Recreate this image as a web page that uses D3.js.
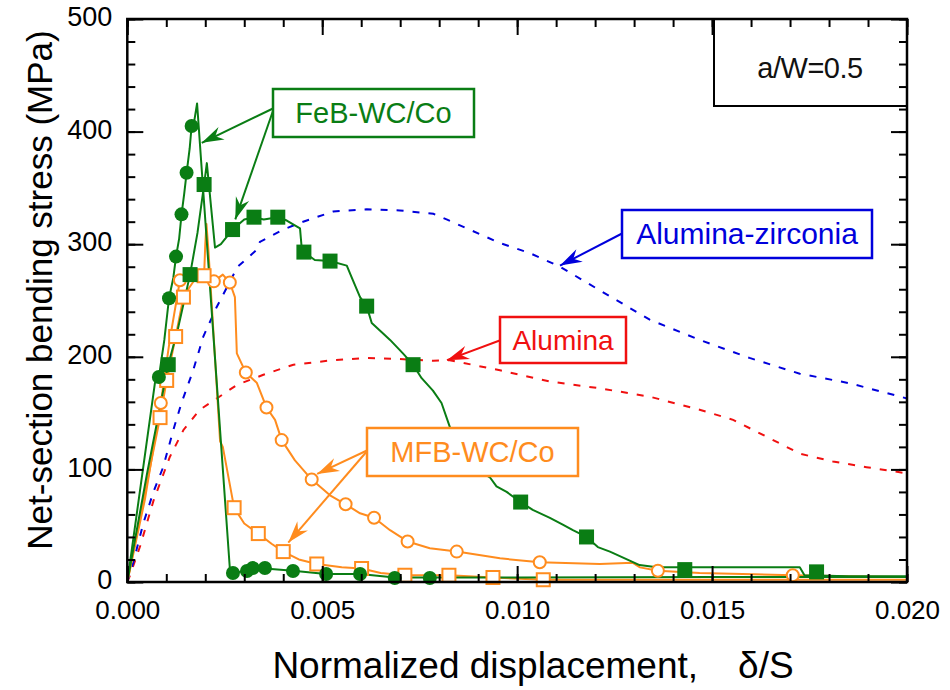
<!DOCTYPE html>
<html>
<head>
<meta charset="utf-8">
<script src="https://cdn.jsdelivr.net/npm/d3@7"></script>
<style>
  html, body { margin: 0; padding: 0; background: #fff; }
  svg { display: block; font-family: "Liberation Sans", Arial, Helvetica, sans-serif; }
</style>
</head>
<body>
<svg id="chart" width="950" height="690"></svg>
<script>
// ---------------- DATA ----------------
// FeB-WC/Co specimen 1 (filled circles)
const feb1X = [0, 0.00071, 0.00081, 0.00095, 0.00107, 0.00118, 0.00125, 0.00133, 0.00139, 0.00146, 0.00152, 0.0016, 0.00165, 0.00172, 0.00179, 0.00263, 0.00271, 0.00307, 0.00322, 0.00353, 0.00425, 0.0051, 0.00597, 0.00686, 0.00776, 0.010, 0.015, 0.020];
const feb1Y = [0, 177, 182, 215, 252, 270, 289, 305, 326, 345, 363, 385, 405, 410, 425, 12, 8, 10, 12, 12, 10, 7, 7, 4, 4, 4, 4.5, 4.5];
const feb1MarkX = [0.00081, 0.00107, 0.00125, 0.00139, 0.00152, 0.00165, 0.00271, 0.00307, 0.00322, 0.00353, 0.00425, 0.0051, 0.00597, 0.00686, 0.00776];
const feb1MarkY = [182, 252, 289, 326.5, 363.5, 405, 8, 9.8, 12.4, 12.4, 9.8, 7.1, 7.1, 3.6, 3.6];

// FeB-WC/Co specimen 2 (filled squares)
const feb2X = [0, 0.0005, 0.00105, 0.0013, 0.00161, 0.0018, 0.00197, 0.00204, 0.00225, 0.0024, 0.0027, 0.003, 0.00325, 0.0035, 0.00386, 0.00409, 0.00443, 0.00447, 0.00453, 0.00481, 0.0052, 0.00563, 0.00575, 0.00597, 0.00614, 0.00627, 0.00652, 0.00674, 0.00707, 0.00733, 0.00755, 0.00784, 0.00806, 0.00827, 0.0085, 0.0093, 0.00947, 0.00973, 0.01009, 0.0104, 0.01084, 0.01117, 0.01143, 0.01178, 0.01207, 0.01238, 0.01314, 0.01358, 0.01725, 0.01737, 0.0185, 0.020];
const feb2Y = [0, 95, 193, 225, 273, 310, 353, 372, 297, 300, 313, 322, 324, 322, 324, 321, 314, 298, 293, 286, 285, 281, 271, 253, 245, 230, 222, 215, 203, 193, 181, 170, 159, 138, 110, 93, 85, 80, 71, 64, 57, 51, 46, 40, 31, 27, 15, 13, 13, 6, 5, 5];
const feb2MarkX = [0.00105, 0.00161, 0.00197, 0.0027, 0.00325, 0.00386, 0.00453, 0.0052, 0.00614, 0.00733, 0.01009, 0.01178, 0.0143, 0.01768];
const feb2MarkY = [193, 273, 353, 313, 324, 324, 293, 285, 245, 193, 71, 40, 11, 9];

// MFB-WC/Co specimen 1 (open circles)
const mfb1X = [0, 0.00045, 0.00086, 0.00109, 0.00135, 0.00161, 0.00186, 0.00222, 0.00245, 0.00263, 0.00276, 0.00281, 0.00289, 0.00304, 0.00332, 0.00357, 0.00379, 0.00396, 0.0043, 0.00473, 0.0052, 0.0056, 0.00597, 0.00633, 0.00674, 0.00719, 0.00776, 0.00845, 0.00956, 0.01058, 0.01212, 0.01297, 0.01315, 0.01361, 0.01468, 0.01707, 0.01853, 0.020];
const mfb1Y = [0, 73, 159, 215, 268, 275, 273, 267, 273, 266, 253, 203, 197, 186, 177, 155, 144, 126, 108, 91, 77, 69, 61, 57, 46, 36, 30, 27, 21, 17.5, 16, 17, 13, 10, 8, 6, 5, 4.4];
const mfb1MarkX = [0.00086, 0.00135, 0.00222, 0.00263, 0.00304, 0.00357, 0.00396, 0.00473, 0.0056, 0.00633, 0.00719, 0.00845, 0.01058, 0.01361, 0.01707];
const mfb1MarkY = [159, 268, 267, 266, 186, 155, 126, 91, 69, 57, 36, 27, 17.5, 10, 6];

// MFB-WC/Co specimen 2 (open squares)
const mfb2X = [0, 0.0004, 0.00084, 0.00101, 0.00124, 0.00144, 0.0016, 0.0018, 0.00197, 0.002, 0.00203, 0.00208, 0.00238, 0.00245, 0.00274, 0.003, 0.00336, 0.0037, 0.004, 0.0044, 0.00486, 0.0055, 0.00601, 0.0065, 0.00712, 0.00825, 0.00938, 0.01067, 0.015, 0.020];
const mfb2Y = [0, 70, 146, 179, 218, 253, 262, 272, 272, 300, 318, 295, 125, 120, 66, 52, 43, 34, 27, 20, 16, 13, 12, 8, 6, 6, 4, 2, 2, 2];
const mfb2MarkX = [0.00084, 0.00101, 0.00124, 0.00144, 0.00197, 0.00274, 0.00336, 0.004, 0.00486, 0.00601, 0.00712, 0.00825, 0.00938, 0.01067];
const mfb2MarkY = [146, 179, 218, 253, 272, 66, 43, 27, 16, 12, 6, 6, 4, 2];

// Alumina (red dashed)
const aluX = [0, 0.00007, 0.00033, 0.00067, 0.00109, 0.00144, 0.00186, 0.00238, 0.00281, 0.00349, 0.00426, 0.00528, 0.00614, 0.00699, 0.00785, 0.00827, 0.00956, 0.01084, 0.01212, 0.0134, 0.01468, 0.01554, 0.0164, 0.01725, 0.0181, 0.01896, 0.020];
const aluY = [0, 6, 32, 72, 111, 135, 153, 165, 175, 184, 193, 197, 199, 198, 196.5, 197, 188, 178, 172, 164.6, 153, 144, 129, 114, 107, 102, 96.5];

// Alumina-zirconia (blue dashed)
const azX = [0, 0.00015, 0.00041, 0.00067, 0.00092, 0.00118, 0.00139, 0.00169, 0.00195, 0.00229, 0.00283, 0.00332, 0.0034, 0.004, 0.00451, 0.00528, 0.00614, 0.00699, 0.00785, 0.00819, 0.00956, 0.01033, 0.0111, 0.01212, 0.0134, 0.01468, 0.01596, 0.01725, 0.01853, 0.020];
const azY = [0, 17, 52, 80, 102, 135, 159, 188, 218, 244, 280, 295, 302, 313, 320, 329, 331, 330, 327, 322, 301, 292, 280, 259, 233, 215, 199, 185, 176.5, 163];

// Axis ticks
const xMajorTicks = [0, 0.005, 0.010, 0.015, 0.020];
const xMinorTicks = d3.range(0, 0.0201, 0.001);
const yMajorTicks = [0, 100, 200, 300, 400, 500];
const yMinorTicks = d3.range(0, 501, 20);

// Labels
const xTitleMain = "Normalized displacement,";
const xTitleSym = "\u03B4/S";
const yTitle = "Net-section bending stress (MPa)";
const noteText = "a/W=0.5";

// ---------------- CHART ----------------
const svg = d3.select("#chart");
const L = 127.3, R = 907, T = 19, B = 582;
const x = d3.scaleLinear().domain([0, 0.02]).range([L, R]);
const y = d3.scaleLinear().domain([0, 500]).range([B, T]);

const C = { green: "#0a7d14", orange: "#ff8c1e", blue: "#0000dc", red: "#f01010" };

const zip = (xs, ys) => xs.map((v, i) => [v, ys[i]]);
const line = d3.line().x(d => x(d[0])).y(d => y(d[1]));

const defs = svg.append("defs");
defs.append("clipPath").attr("id", "clip").append("rect")
  .attr("x", L).attr("y", T).attr("width", R - L).attr("height", B - T);
Object.entries(C).forEach(([k, c]) => {
  defs.append("marker").attr("id", "arr-" + k)
    .attr("viewBox", "-24 -8 26 16").attr("refX", 0).attr("refY", 0)
    .attr("markerWidth", 26).attr("markerHeight", 16).attr("markerUnits", "userSpaceOnUse")
    .attr("orient", "auto")
    .append("path").attr("d", "M0,0 L-22,-7 L-15,0 L-22,7 Z").attr("fill", c);
});

const plot = svg.append("g").attr("clip-path", "url(#clip)");

// dashed curves
plot.append("path").datum(zip(aluX, aluY)).attr("d", line)
  .attr("fill", "none").attr("stroke", C.red).attr("stroke-width", 2).attr("stroke-dasharray", "7,9");
plot.append("path").datum(zip(azX, azY)).attr("d", line)
  .attr("fill", "none").attr("stroke", C.blue).attr("stroke-width", 2).attr("stroke-dasharray", "7,9");

// solid curves
[[mfb2X, mfb2Y, C.orange], [mfb1X, mfb1Y, C.orange], [feb2X, feb2Y, C.green], [feb1X, feb1Y, C.green]].forEach(([xs, ys, c]) => {
  plot.append("path").datum(zip(xs, ys)).attr("d", line)
    .attr("fill", "none").attr("stroke", c).attr("stroke-width", 2).attr("stroke-linejoin", "round");
});

// markers
const mk = svg.append("g");
mk.selectAll(".m1").data(zip(mfb1MarkX, mfb1MarkY)).enter().append("circle")
  .attr("cx", d => x(d[0])).attr("cy", d => y(d[1])).attr("r", 6)
  .attr("fill", "#fff").attr("stroke", C.orange).attr("stroke-width", 2);
mk.selectAll(".m2").data(zip(mfb2MarkX, mfb2MarkY)).enter().append("rect")
  .attr("x", d => x(d[0]) - 6.5).attr("y", d => y(d[1]) - 6.5).attr("width", 13).attr("height", 13)
  .attr("fill", "#fff").attr("stroke", C.orange).attr("stroke-width", 2);
mk.selectAll(".f2").data(zip(feb2MarkX, feb2MarkY)).enter().append("rect")
  .attr("x", d => x(d[0]) - 7.5).attr("y", d => y(d[1]) - 7.5).attr("width", 15).attr("height", 15)
  .attr("fill", C.green);
mk.selectAll(".f1").data(zip(feb1MarkX, feb1MarkY)).enter().append("circle")
  .attr("cx", d => x(d[0])).attr("cy", d => y(d[1])).attr("r", 7)
  .attr("fill", C.green);

// axes
function noDomain(g) { g.select(".domain").remove(); }
const fs = 26;
svg.append("g").attr("transform", `translate(0,${B})`)
  .call(d3.axisBottom(x).tickValues(xMinorTicks).tickSize(-8).tickFormat(""))
  .call(noDomain).call(g => g.selectAll("line").attr("stroke-width", 2));
svg.append("g").attr("transform", `translate(0,${B})`)
  .call(d3.axisBottom(x).tickValues(xMajorTicks).tickSize(-16).tickPadding(19).tickFormat(d3.format(".3f")))
  .call(noDomain).call(g => { g.selectAll("line").attr("stroke-width", 2); g.selectAll("text").attr("font-size", fs).attr("fill", "#000").attr("font-family", null); });
svg.append("g").attr("transform", `translate(0,${T})`)
  .call(d3.axisTop(x).tickValues(xMinorTicks).tickSize(-8).tickFormat(""))
  .call(noDomain).call(g => g.selectAll("line").attr("stroke-width", 2));
svg.append("g").attr("transform", `translate(0,${T})`)
  .call(d3.axisTop(x).tickValues(xMajorTicks).tickSize(-16).tickFormat(""))
  .call(noDomain).call(g => g.selectAll("line").attr("stroke-width", 2));
svg.append("g").attr("transform", `translate(${L},0)`)
  .call(d3.axisLeft(y).tickValues(yMinorTicks).tickSize(-8).tickFormat(""))
  .call(noDomain).call(g => g.selectAll("line").attr("stroke-width", 2));
svg.append("g").attr("transform", `translate(${L},0)`)
  .call(d3.axisLeft(y).tickValues(yMajorTicks).tickSize(-16).tickPadding(15).tickFormat(d3.format("d")))
  .call(noDomain).call(g => { g.selectAll("line").attr("stroke-width", 2); g.selectAll("text").attr("font-size", 27).attr("fill", "#000").attr("font-family", null).attr("dy", "0.25em"); });
svg.append("g").attr("transform", `translate(${R},0)`)
  .call(d3.axisRight(y).tickValues(yMinorTicks).tickSize(-8).tickFormat(""))
  .call(noDomain).call(g => g.selectAll("line").attr("stroke-width", 2));
svg.append("g").attr("transform", `translate(${R},0)`)
  .call(d3.axisRight(y).tickValues(yMajorTicks).tickSize(-16).tickFormat(""))
  .call(noDomain).call(g => g.selectAll("line").attr("stroke-width", 2));

// frame
svg.append("rect").attr("x", L).attr("y", T).attr("width", R - L).attr("height", B - T)
  .attr("fill", "none").attr("stroke", "#000").attr("stroke-width", 2.5);

// titles
const xt = svg.append("text").attr("x", 533).attr("y", 678).attr("text-anchor", "middle")
  .attr("font-size", 37);
xt.append("tspan").text(xTitleMain);
xt.append("tspan").attr("dx", 40).text(xTitleSym);
svg.append("text").attr("transform", "translate(52,290) rotate(-90)").attr("text-anchor", "middle")
  .attr("font-size", 35).text(yTitle);

// note box
svg.append("rect").attr("x", 714).attr("y", T).attr("width", R - 714).attr("height", 106 - T)
  .attr("fill", "none").attr("stroke", "#000").attr("stroke-width", 2);
svg.append("text").attr("x", 810).attr("y", 78).attr("text-anchor", "middle")
  .attr("font-size", 29).attr("fill", "#111").attr("letter-spacing", -0.5).text(noteText);

// annotation boxes with arrows
function annot(bx, by, bw, bh, label, color, key, arrows, size) {
  arrows.forEach(a => {
    svg.append("line").attr("x1", a[0]).attr("y1", a[1]).attr("x2", a[2]).attr("y2", a[3])
      .attr("stroke", color).attr("stroke-width", 2).attr("marker-end", `url(#arr-${key})`);
  });
  svg.append("rect").attr("x", bx).attr("y", by).attr("width", bw).attr("height", bh)
    .attr("fill", "#fff").attr("stroke", color).attr("stroke-width", 2.5);
  svg.append("text").attr("x", bx + bw / 2).attr("y", by + bh / 2 + 10).attr("text-anchor", "middle")
    .attr("font-size", size).attr("fill", color).text(label);
}
annot(273, 89, 201, 48, "FeB-WC/Co", C.green, "green",
  [[274, 108, x(0.00191), y(390)], [274, 108, x(0.00277), y(322)]], 29);
annot(622, 210, 250, 48, "Alumina-zirconia", C.blue, "blue",
  [[623, 233, x(0.01110), y(281)]], 30);
annot(500, 317, 126, 46, "Alumina", C.red, "red",
  [[501, 340, x(0.00820), y(197)]], 28);
annot(367, 428, 211, 48, "MFB-WC/Co", C.orange, "orange",
  [[368, 450, x(0.00487), y(96)], [368, 450, x(0.00413), y(35)]], 29);
</script>
</body>
</html>
